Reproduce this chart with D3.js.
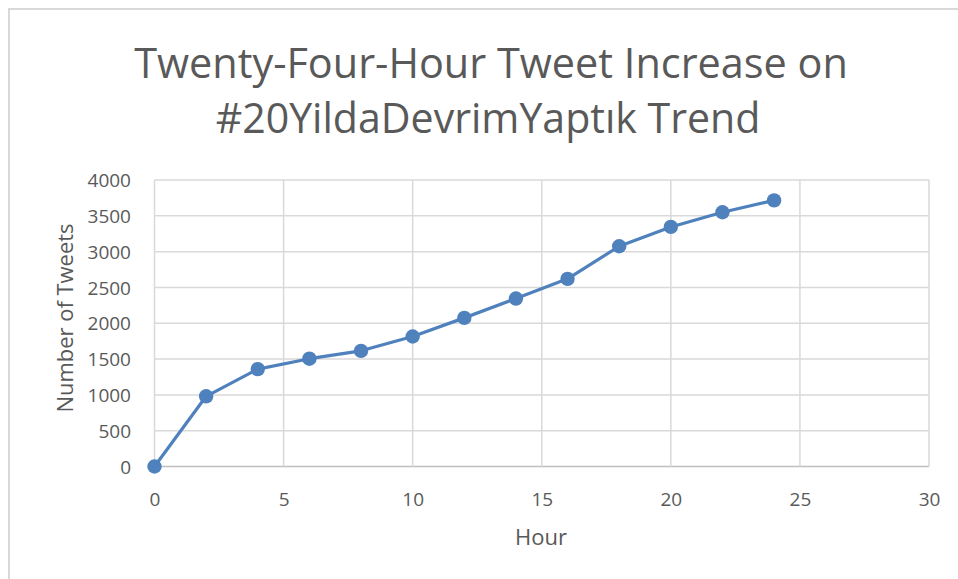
<!DOCTYPE html>
<html><head><meta charset="utf-8">
<script src="https://cdn.jsdelivr.net/npm/d3@7"></script>
<style>body{margin:0;background:#fff}svg{display:block}text{font-family:"Open Sans",sans-serif;fill:#595959}</style>
</head><body><svg id="c" width="958" height="579"></svg>
<script>
const hours = [0,2,4,6,8,10,12,14,16,18,20,22,24];
const tweets = [0,980,1360,1505,1615,1815,2075,2345,2620,3075,3345,3550,3715];
const xTicks = [0,5,10,15,20,25,30];
const yTicks = [0,500,1000,1500,2000,2500,3000,3500,4000];
const titleLines = ["Twenty-Four-Hour Tweet Increase on","#20YildaDevrimYaptık Trend"];
const xTitle = "Hour", yTitle = "Number of Tweets";

const svg = d3.select("#c");
svg.append("path").attr("d","M9,580 L9,9 L960,9").attr("fill","none").attr("stroke","#d9d9d9").attr("stroke-width",2);

const x = d3.scaleLinear().domain([0,30]).range([154.5,929]);
const y = d3.scaleLinear().domain([0,4000]).range([466.5,180]);

function fit(t, w){ const n=t.node(); const l=n.getComputedTextLength(); const fs=parseFloat(t.attr("font-size")); t.attr("font-size", fs*w/l); }

const t1 = svg.append("text").attr("x",491).attr("y",78).attr("text-anchor","middle").attr("font-size",44).text(titleLines[0]); fit(t1,714);
const t2 = svg.append("text").attr("x",488).attr("y",133).attr("text-anchor","middle").attr("font-size",44).text(titleLines[1]); fit(t2,545);

const g = svg.append("g");
g.selectAll(".gy").data(yTicks).join("line").attr("x1",x(0)).attr("x2",x(30)).attr("y1",d=>y(d)).attr("y2",d=>y(d))
 .attr("stroke",d=>d===0?"#bfbfbf":"#d9d9d9").attr("stroke-width",1.5);
g.selectAll(".gx").data(xTicks).join("line").attr("x1",d=>x(d)).attr("x2",d=>x(d)).attr("y1",y(0)).attr("y2",y(4000))
 .attr("stroke","#d9d9d9").attr("stroke-width",1.5);

const xa = svg.append("g").attr("transform",`translate(0,${y(0)})`).call(d3.axisBottom(x).tickValues(xTicks).tickFormat(d3.format("d")).tickSize(0).tickPadding(0));
xa.select(".domain").remove();
xa.selectAll("text").attr("font-size",19).attr("dy",null).attr("y",39).attr("font-family","Open Sans").attr("fill","#595959");
const ya = svg.append("g").attr("transform",`translate(131,0)`).call(d3.axisLeft(y).tickValues(yTicks).tickFormat(d3.format("d")).tickSize(0).tickPadding(0));
ya.select(".domain").remove();
ya.selectAll("text").attr("font-size",19).attr("dy","0.35em").attr("x",0).attr("font-family","Open Sans").attr("fill","#595959");

const xt = svg.append("text").attr("x",541).attr("y",545).attr("text-anchor","middle").attr("font-size",20).text(xTitle); fit(xt,52);
const yt = svg.append("text").attr("transform","translate(73,318) rotate(-90)").attr("text-anchor","middle").attr("font-size",20).text(yTitle); fit(yt,189);

const data = hours.map((h,i)=>({h,v:tweets[i]}));
svg.append("path").datum(data).attr("d",d3.line().x(d=>x(d.h)).y(d=>y(d.v))).attr("fill","none").attr("stroke","#4f81bd").attr("stroke-width",3.2).attr("stroke-linejoin","round");
svg.selectAll(".m").data(data).join("circle").attr("cx",d=>x(d.h)).attr("cy",d=>y(d.v)).attr("r",7.2).attr("fill","#4f81bd");
</script></body></html>
